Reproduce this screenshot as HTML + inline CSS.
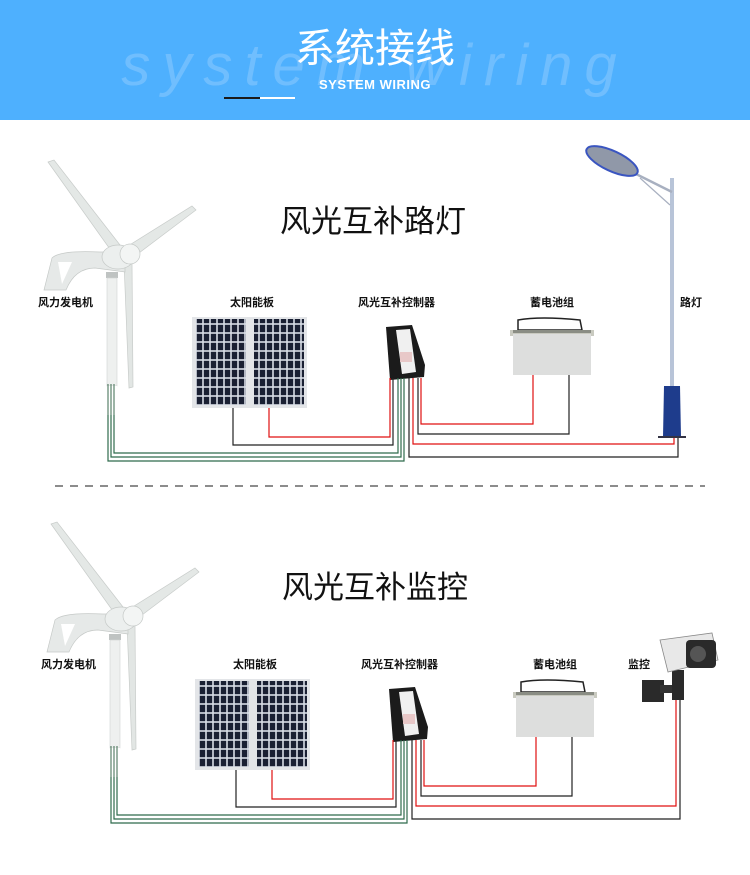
<!DOCTYPE html>
<html><head><meta charset="utf-8"><style>
html,body{margin:0;padding:0;background:#fff;width:750px;height:875px;overflow:hidden}
svg{display:block}
text{font-family:"Liberation Sans","Noto Sans CJK SC",sans-serif}
</style></head><body>
<svg width="750" height="875" viewBox="0 0 750 875" xmlns="http://www.w3.org/2000/svg">
<defs>
<pattern id="cells" x="0" y="0" width="7" height="9" patternUnits="userSpaceOnUse">
<rect width="7" height="9" fill="#d8dde6"/><rect x="0.8" y="0.8" width="5.4" height="7.4" fill="#1a2033"/>
</pattern>
<g id="turbine">
<polygon points="48,162 54,160 120,245 112,252" fill="#e4e8e6" stroke="#c8ccca" stroke-width="0.7"/>
<polygon points="192,206 196,210 135,256 128,246" fill="#e4e8e6" stroke="#c8ccca" stroke-width="0.7"/>
<polygon points="124,262 132,262 133,387 129,388" fill="#e2e6e4" stroke="#c8ccca" stroke-width="0.7"/>
<path d="M44,290 L52,258 Q60,250 100,252 L125,252 L125,272 L95,268 Q75,268 66,290 Z" fill="#e6e9e8" stroke="#c5c9c7" stroke-width="0.7"/>
<path d="M58,262 L72,262 L62,284 Z" fill="#fff"/>
<ellipse cx="118" cy="257" rx="16" ry="12" fill="#ecefee" stroke="#c5c9c7" stroke-width="0.7"/>
<circle cx="130" cy="254" r="10" fill="#f3f5f4" stroke="#c5c9c7" stroke-width="0.7"/>
<rect x="106" y="272" width="12" height="6" fill="#bfc3c2"/>
<rect x="107" y="278" width="10" height="108" fill="#eef0ef" stroke="#d0d3d2" stroke-width="0.6"/>
<rect x="107" y="386" width="10" height="30" fill="#fff"/>
<line x1="108" y1="384" x2="108" y2="415" stroke="#3a6a4e"/>
<line x1="111" y1="384" x2="111" y2="415" stroke="#3a6a4e"/>
<line x1="114" y1="384" x2="114" y2="415" stroke="#3a6a4e"/>
</g>
<g id="solar">
<rect x="192" y="317" width="115" height="91" fill="#e3e5e8"/>
<rect x="196" y="319" width="50" height="86" fill="url(#cells)"/>
<rect x="254" y="319" width="50" height="86" fill="url(#cells)"/>
</g>
<g id="ctrl">
<path d="M386,327 L412,325 L425,365 L424,377 L390,380 Z" fill="#1b1b1b"/>
<path d="M396,330 L410,329 L416,372 L402,374 Z" fill="#f0f0f0"/>
<rect x="400" y="352" width="12" height="10" fill="#e8c8c8"/>
</g>
<g id="battery">
<path d="M518,320 Q540,316 580,320 L582,330 L518,330 Z" fill="none" stroke="#222" stroke-width="1.5"/>
<rect x="510" y="330" width="84" height="6" fill="#c9cac0"/>
<rect x="513" y="334" width="78" height="41" fill="#dddedd"/>
<rect x="513" y="330" width="78" height="3" fill="#8a8d84"/>
</g>
<g id="wires-common" fill="none" stroke-width="1.2">
<polyline points="108,415 108,461 404,461 404,378" stroke="#2f6b4c"/>
<polyline points="111,415 111,457 401,457 401,378" stroke="#2f6b4c"/>
<polyline points="114,415 114,453 398,453 398,378" stroke="#2f6b4c"/>
<polyline points="233,408 233,445 393,445 393,378" stroke="#222"/>
<polyline points="269,408 269,437 390,437 390,378" stroke="#e01010"/>
<polyline points="533,375 533,424 421,424 421,378" stroke="#e01010"/>
<polyline points="569,375 569,434 418,434 418,378" stroke="#222"/>
</g>
<g id="labels" font-size="11" font-weight="bold" fill="#111">
<text x="38" y="306">风力发电机</text>
<text x="230" y="306">太阳能板</text>
<text x="358" y="306">风光互补控制器</text>
<text x="530" y="306">蓄电池组</text>
</g>
</defs>

<!-- header -->
<rect x="0" y="0" width="750" height="120" fill="#4eb0fe"/>
<text x="375" y="85" text-anchor="middle" font-size="58" font-style="italic" fill="#8ccbff" font-family="Liberation Serif,serif" letter-spacing="12" opacity="0.55">system wiring</text>
<text x="375" y="62" text-anchor="middle" font-size="40" fill="#fff">系统接线</text>
<text x="375" y="89" text-anchor="middle" font-size="13" font-weight="bold" fill="#fff" letter-spacing="0.5">SYSTEM WIRING</text>
<rect x="224" y="97" width="36" height="2" fill="#1a1a1a"/>
<rect x="260" y="97" width="35" height="2" fill="#fff"/>

<!-- section 1 -->
<text x="373" y="232" text-anchor="middle" font-size="31" fill="#111">风光互补路灯</text>
<use href="#turbine"/><use href="#solar"/><use href="#ctrl"/><use href="#battery"/>
<use href="#wires-common"/><use href="#labels"/>
<text x="680" y="306" font-size="11" font-weight="bold" fill="#111">路灯</text>
<!-- lamp -->
<rect x="670" y="178" width="4" height="208" fill="#b8c4d8"/>
<line x1="632" y1="172" x2="672" y2="192" stroke="#a8b0c0" stroke-width="2.5"/>
<line x1="640" y1="178" x2="670" y2="205" stroke="#a8b0c0" stroke-width="1.2"/>
<ellipse cx="612" cy="161" rx="28" ry="10" transform="rotate(25 612 161)" fill="#9098a8" stroke="#3a55c0" stroke-width="2"/>
<path d="M664,386 L680,386 L681,437 L663,437 Z" fill="#1e3c8c"/>
<rect x="658" y="436" width="28" height="2" fill="#334"/>
<g fill="none" stroke-width="1.2">
<polyline points="413,378 413,444 674,444 674,438" stroke="#e01010"/>
<polyline points="409,378 409,457 678,457 678,438" stroke="#222"/>
</g>

<!-- dashed -->
<line x1="55" y1="486" x2="705" y2="486" stroke="#666" stroke-width="1.5" stroke-dasharray="8,7"/>

<!-- section 2 -->
<text x="375" y="598" text-anchor="middle" font-size="31" fill="#111">风光互补监控</text>
<g transform="translate(3,362)">
<use href="#turbine"/><use href="#solar"/><use href="#ctrl"/><use href="#battery"/>
<use href="#wires-common"/><use href="#labels"/>
<g fill="none" stroke-width="1.2">
<polyline points="413,378 413,444 673,444 673,335" stroke="#e01010"/>
<polyline points="409,378 409,457 677,457 677,335" stroke="#222"/>
</g>
</g>
<text x="628" y="668" font-size="11" font-weight="bold" fill="#111">监控</text>
<!-- camera -->
<rect x="642" y="680" width="22" height="22" fill="#2a2a2a"/>
<rect x="660" y="685" width="22" height="8" fill="#333"/>
<rect x="672" y="670" width="12" height="30" fill="#2a2a2a"/>
<path d="M660,640 L712,633 L718,660 L668,672 Z" fill="#e8e8e8" stroke="#888" stroke-width="0.8"/>
<rect x="686" y="640" width="30" height="28" rx="4" fill="#2a2a2a"/>
<circle cx="698" cy="654" r="8" fill="#555"/>
</svg>
</body></html>
